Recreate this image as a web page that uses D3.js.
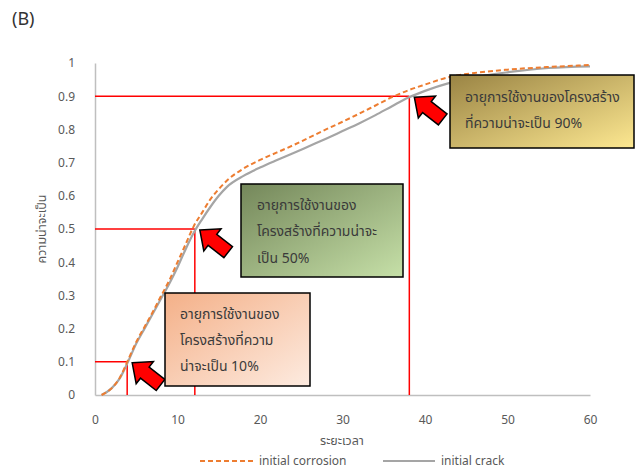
<!DOCTYPE html>
<html><head><meta charset="utf-8">
<script src="https://cdn.jsdelivr.net/npm/d3@7/dist/d3.min.js"></script>
<style>body{margin:0;background:#fff;} svg{display:block;} text{font-family:"Noto Sans","Noto Sans Thai",Tahoma,sans-serif;}</style>
</head><body><svg id="c" width="637" height="470"></svg>
<script>
const xTicks = [0,10,20,30,40,50,60];
const yTicks = [0,0.1,0.2,0.3,0.4,0.5,0.6,0.7,0.8,0.9,1];
const timeX = [0.8,2,3,4,5,6,7,8,9,10,11,12,13,14,15,16,18,20,22,24,26,28,30,32,34,36,38,40,43,46,50,55,60];
const crack = [0,0.02,0.05,0.10,0.155,0.2,0.245,0.29,0.335,0.385,0.44,0.49,0.53,0.567,0.6,0.627,0.66,0.685,0.707,0.728,0.75,0.772,0.795,0.818,0.843,0.87,0.896,0.916,0.94,0.957,0.972,0.985,0.99];
const corrosion = [0,0.02,0.052,0.105,0.16,0.205,0.25,0.298,0.345,0.40,0.455,0.51,0.55,0.59,0.62,0.646,0.682,0.708,0.73,0.752,0.776,0.8,0.823,0.847,0.872,0.897,0.918,0.935,0.958,0.97,0.98,0.988,0.994];
const probLevels = [0.1,0.5,0.9];
const probTimes = [3.9,12.1,38.1];
const seriesNames = ["initial corrosion","initial crack"];
const notes = [
  ["อายุการใช้งานของ","โครงสร้างที่ความ","น่าจะเป็น 10%"],
  ["อายุการใช้งานของ","โครงสร้างที่ความน่าจะ","เป็น 50%"],
  ["อายุการใช้งานของโครงสร้าง","ที่ความน่าจะเป็น 90%"]
];

const svg = d3.select("#c");
const x = d3.scaleLinear([0,60],[95,590]);
const y = d3.scaleLinear([0,1],[395,63]);

svg.append("text").attr("x",12).attr("y",25).attr("font-size",18).attr("fill","#333").text("(B)");

// axes
const gx = svg.append("g").attr("transform","translate(0,395)")
  .call(d3.axisBottom(x).tickValues(xTicks).tickSize(0).tickPadding(20).tickFormat(d3.format("d")));
gx.select(".domain").attr("stroke","#bfbfbf").attr("stroke-width",1.5);
gx.selectAll("text").attr("font-size",12).attr("fill","#595959").style("font-family","Noto Sans");

const gy = svg.append("g").attr("transform","translate(95,0)")
  .call(d3.axisLeft(y).tickValues(yTicks).tickSize(0).tickPadding(20).tickFormat(d=> d===0||d===1? String(d): d.toFixed(1)));
gy.select(".domain").attr("stroke","#bfbfbf").attr("stroke-width",1.5);
gy.selectAll("text").attr("font-size",12).attr("fill","#595959").style("font-family","Noto Sans");

// axis titles
svg.append("text").attr("x",342).attr("y",445).attr("text-anchor","middle").attr("font-size",12.5).attr("fill","#595959").text("ระยะเวลา");
svg.append("text").attr("transform","translate(46,229) rotate(-90)").attr("text-anchor","middle").attr("font-size",12.5).attr("fill","#595959").text("ความน่าจะเป็น");

// red reference lines
probLevels.forEach((p,i)=>{
  svg.append("line").attr("x1",x(0)).attr("x2",x(probTimes[i])).attr("y1",y(p)).attr("y2",y(p)).attr("stroke","#ff0000").attr("stroke-width",1.5);
  svg.append("line").attr("x1",x(probTimes[i])).attr("x2",x(probTimes[i])).attr("y1",y(p)).attr("y2",y(0)).attr("stroke","#ff0000").attr("stroke-width",1.5);
});

// curves
const line = d3.line().x((d,i)=>x(timeX[i])).y(d=>y(d)).curve(d3.curveMonotoneX);
svg.append("path").attr("d",line(crack)).attr("fill","none").attr("stroke","#a5a5a5").attr("stroke-width",2.2);
svg.append("path").attr("d",line(corrosion)).attr("fill","none").attr("stroke","#ed7d31").attr("stroke-width",2).attr("stroke-dasharray","5,3");

// gradients
const defs = svg.append("defs");
const grads = [["#f4b088","#fdebe0"],["#74875a","#c6e0a8"],["#9a8444","#fde891"]];
grads.forEach((g,i)=>{
  const lg = defs.append("linearGradient").attr("id","g"+i).attr("x1","0").attr("y1","0").attr("x2","1").attr("y2","1");
  lg.append("stop").attr("offset","0").attr("stop-color",g[0]);
  lg.append("stop").attr("offset","1").attr("stop-color",g[1]);
});

// arrows
const arrowPts = [[0,0],[16,-14],[16,-7],[36,-7],[36,7],[16,7],[16,14]];
probLevels.forEach((p,i)=>{
  svg.append("polygon").attr("points",arrowPts.map(a=>a.join(",")).join(" "))
    .attr("transform",`translate(${x(probTimes[i])+5},${y(p)+1}) rotate(38)`)
    .attr("fill","#ff0000").attr("stroke","#000").attr("stroke-width",1.5).attr("stroke-linejoin","miter");
});

// annotation boxes
const boxes = [
  {x0:165,y0:293,w:145,h:93,tx:180,ty:[319,345,371]},
  {x0:241,y0:184,w:162,h:93,tx:257,ty:[210,236,263]},
  {x0:450,y0:75,w:184,h:73,tx:465,ty:[102,128]}
];
boxes.forEach((b,i)=>{
  svg.append("rect").attr("x",b.x0).attr("y",b.y0).attr("width",b.w).attr("height",b.h)
    .attr("fill",`url(#g${i})`).attr("stroke","#000").attr("stroke-width",1.5);
  notes[i].forEach((t,j)=>{
    svg.append("text").attr("x",b.tx).attr("y",b.ty[j]).attr("font-size",14).attr("fill","#3a3a3a").text(t);
  });
});

// legend
const lg = svg.append("g");
lg.append("line").attr("x1",200).attr("x2",254).attr("y1",461).attr("y2",461).attr("stroke","#ed7d31").attr("stroke-width",2).attr("stroke-dasharray","5,3");
lg.append("text").attr("x",259).attr("y",465).attr("font-size",12).attr("fill","#595959").text(seriesNames[0]);
lg.append("line").attr("x1",383).attr("x2",435).attr("y1",461).attr("y2",461).attr("stroke","#a5a5a5").attr("stroke-width",2);
lg.append("text").attr("x",441).attr("y",465).attr("font-size",12).attr("fill","#595959").text(seriesNames[1]);
</script></body></html>
